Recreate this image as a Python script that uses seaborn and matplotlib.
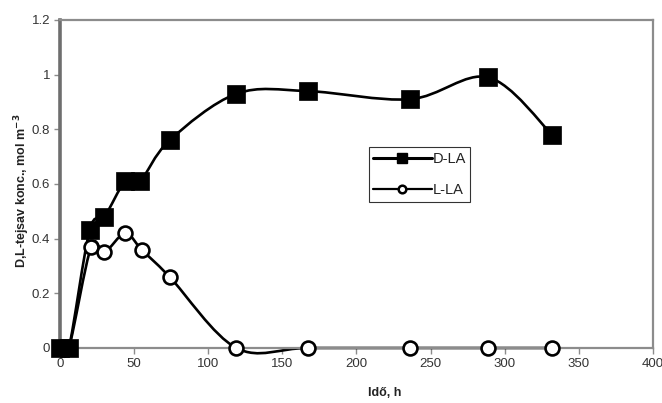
import numpy as np
import pandas as pd
import seaborn as sns
import matplotlib.pyplot as plt
from matplotlib.path import Path
from matplotlib.patches import PathPatch
from matplotlib.lines import Line2D
from matplotlib.ticker import FuncFormatter

# data
d_time = [0, 6, 20, 30, 44, 54, 74, 119, 167, 236, 289, 332]
d_conc = [0, 0, 0.43, 0.48, 0.61, 0.61, 0.76, 0.93, 0.94, 0.91, 0.99, 0.78]
l_time = [0, 6, 21, 30, 44, 55, 74, 119, 167, 236, 289, 332]
l_conc = [0, 0, 0.37, 0.35, 0.42, 0.36, 0.26, 0, 0, 0, 0, 0]

df_d = pd.DataFrame({'t': d_time, 'c': d_conc})
df_l = pd.DataFrame({'t': l_time, 'c': l_conc})

sns.set_style("white")
plt.rcParams['font.family'] = ['Liberation Sans', 'DejaVu Sans']


def smooth_path(x, y):
    # excel-like smoothed line (catmull-rom bezier through the points)
    pts = np.column_stack([x, y]).astype(float)
    n = len(pts)
    verts = [pts[0]]
    codes = [Path.MOVETO]
    for i in range(n - 1):
        p0 = pts[max(i - 1, 0)]
        p1 = pts[i]
        p2 = pts[i + 1]
        p3 = pts[min(i + 2, n - 1)]
        verts += [p1 + (p2 - p0) / 6, p2 - (p3 - p1) / 6, p2]
        codes += [Path.CURVE4] * 3
    return Path(verts, codes)


fig = plt.figure(figsize=(6.62, 4.03), dpi=100)
ax = fig.add_axes([0.0906, 0.1365, 0.8958, 0.8139])

for df in (df_d, df_l):
    ax.add_patch(PathPatch(smooth_path(df['t'], df['c']), facecolor='none',
                           edgecolor='black', lw=1.9, zorder=2, clip_on=False))

sns.scatterplot(data=df_d, x='t', y='c', marker='s', s=160, color='black',
                edgecolor='black', linewidth=0.5, zorder=4, clip_on=False, ax=ax)
sns.scatterplot(data=df_l, x='t', y='c', marker='o', s=100, facecolor='white',
                edgecolor='black', linewidth=1.9, zorder=3, clip_on=False, ax=ax)

ax.set_xlim(0, 400)
ax.set_ylim(0, 1.2)
ax.set_xticks(np.arange(0, 401, 50))
ax.set_yticks(np.arange(0, 1.21, 0.2))
ax.yaxis.set_major_formatter(FuncFormatter(lambda v, p: f'{v:g}'))

for side in ['top', 'right', 'bottom']:
    ax.spines[side].set_color('#8c8c8c')
    ax.spines[side].set_linewidth(1.6)
ax.spines['left'].set_color('#6e6e6e')
ax.spines['left'].set_linewidth(2.6)

ax.tick_params(axis='both', direction='out', length=4, width=1, color='#8c8c8c',
               labelsize=9.5, labelcolor='#333333', left=True, bottom=True, pad=3)

ax.set_xlabel('')
ax.set_ylabel('D,L-tejsav konc., mol m$^{\\mathbf{-3}}$', fontsize=9, fontweight='bold',
              color='#222222', va='center')
ax.yaxis.set_label_coords(-0.064, 0.48)
fig.text(385 / 662, 1 - 393 / 403, 'Idő, h', fontsize=9, fontweight='bold',
         color='#222222', ha='center', va='center')

handles = [
    Line2D([], [], color='black', lw=2.2, marker='s', markersize=7.5),
    Line2D([], [], color='black', lw=1.6, marker='o', markersize=5.5,
           markerfacecolor='white', markeredgewidth=1.8),
]
leg = ax.legend(handles, ['D-LA', 'L-LA'], loc='upper left', bbox_to_anchor=(0.521, 0.612),
                fontsize=10.5, frameon=True, fancybox=False, edgecolor='black',
                handlelength=4.0, handletextpad=0.05, borderpad=0.3, labelspacing=1.2,
                borderaxespad=0)
leg.get_frame().set_linewidth(0.8)
for t in leg.get_texts():
    t.set_color('#222222')

fig.savefig('out.png', dpi=100)
